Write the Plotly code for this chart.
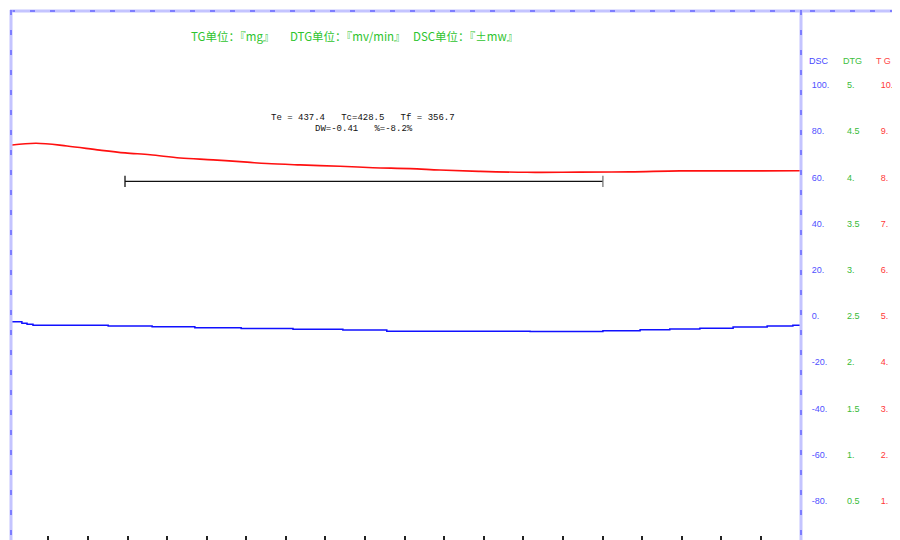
import plotly.graph_objects as go

# ---------------- data ----------------
# TG curve (mg) vs time index
tg_x = [-0.92, -0.31, 0.47, 1.30, 1.94, 2.57, 3.33, 4.16, 5.02, 5.52, 6.36, 7.37,
        8.20, 9.14, 9.89, 10.91, 12.09, 13.43, 14.69, 15.96, 17.47, 18.99]
tg_y = [8.70, 8.74, 8.68, 8.59, 8.53, 8.49, 8.42, 8.38, 8.33, 8.30, 8.27, 8.24,
        8.21, 8.19, 8.16, 8.13, 8.11, 8.115, 8.12, 8.14, 8.14, 8.145]

# DSC curve (±mw)
dsc_x = [-0.92, -0.67, -0.54, -0.39, 1.51, 2.62, 3.70, 4.87, 6.18, 7.44, 8.55,
         12.17, 14.01, 14.95, 15.70, 16.46, 17.30, 18.16, 18.81, 18.99]
dsc_y = [-2.47, -3.16, -3.59, -4.03, -4.33, -4.63, -5.06, -5.40, -5.75, -6.10, -6.55,
         -6.70, -6.36, -5.93, -5.63, -5.32, -4.76, -4.33, -4.03, -4.03]

# analysis range bracket (on TG scale)
range_x = [1.935, 14.01]
range_tg = 7.913
cap_half = 0.12

# right-hand scales
dsc_ticks = [100, 80, 60, 40, 20, 0, -20, -40, -60, -80]
dsc_text = ["100.", "80.", "60.", "40.", "20.", "0.", "-20.", "-40.", "-60.", "-80."]
dtg_ticks = [5, 4.5, 4, 3.5, 3, 2.5, 2, 1.5, 1, 0.5]
dtg_text = ["5.", "4.5", "4.", "3.5", "3.", "2.5", "2.", "1.5", "1.", "0.5"]
tg_ticks = [10, 9, 8, 7, 6, 5, 4, 3, 2, 1]
tg_text = ["10.", "9.", "8.", "7.", "6.", "5.", "4.", "3.", "2.", "1."]

x_ticks = list(range(0, 19))

# ---------------- layout helpers ----------------
OFF = 8                      # page body margin in the browser
W, H = 900 - OFF, 540 - OFF
ML, MR, MT, MB = 12 - OFF, 0, 11 - OFF, 0
PW, PH = W - ML - MR, H - MT - MB

def px(x):
    # screen pixel -> paper fraction
    return (x - OFF - ML) / PW

def py(y):
    return 1 - (y - OFF - MT) / PH

DSC_RANGE = [-96.97, 132.03]
DTG_RANGE = [d / 40 + 2.5 for d in DSC_RANGE]
TG_RANGE = [d / 20 + 5 for d in DSC_RANGE]

fig = go.Figure()

fig.add_trace(go.Scatter(x=dsc_x, y=dsc_y, mode="lines", line=dict(color="#1010ff", width=1.5, shape="hv"),
                         yaxis="y", hoverinfo="skip"))
fig.add_trace(go.Scatter(x=tg_x, y=tg_y, mode="lines", line=dict(color="#ff1010", width=1.6, shape="spline"),
                         yaxis="y3", hoverinfo="skip"))
# bracket
fig.add_trace(go.Scatter(x=range_x, y=[range_tg, range_tg], mode="lines",
                         line=dict(color="#111111", width=1.3), yaxis="y3", hoverinfo="skip"))
fig.add_trace(go.Scatter(x=[range_x[0], range_x[0]], y=[range_tg - cap_half, range_tg + cap_half], mode="lines",
                         line=dict(color="#111111", width=1.3), yaxis="y3", hoverinfo="skip"))
fig.add_trace(go.Scatter(x=[range_x[1], range_x[1]], y=[range_tg - cap_half, range_tg + cap_half], mode="lines",
                         line=dict(color="#777777", width=1.3), yaxis="y3", hoverinfo="skip"))
# invisible trace to keep DTG axis alive
fig.add_trace(go.Scatter(x=[None], y=[None], yaxis="y2", mode="lines", hoverinfo="skip"))

shapes = []
border_light = "#c4c4ff"
border_dash = "#7d7dff"
for (x0, y0, x1, y1) in [(10, 11, 900, 11), (11, 10, 11, 540), (801, 10, 801, 540)]:
    shapes.append(dict(type="line", xref="paper", yref="paper", x0=px(x0), y0=py(y0), x1=px(x1), y1=py(y1),
                       line=dict(color=border_light, width=3), layer="above"))
    shapes.append(dict(type="line", xref="paper", yref="paper", x0=px(x0), y0=py(y0), x1=px(x1), y1=py(y1),
                       line=dict(color=border_dash, width=2, dash="5px,15px"), layer="above"))

cjk = "Noto Sans CJK SC, Arial, sans-serif"
mono = "Liberation Mono, DejaVu Sans Mono, monospace"
green = "#2ec42e"
annotations = [
    dict(text="TG单位：『mg』", x=px(189), y=py(36), xanchor="left", yanchor="middle"),
    dict(text="DTG单位：『mv/min』", x=px(288), y=py(36), xanchor="left", yanchor="middle"),
    dict(text="DSC单位：『±mw』", x=px(411), y=py(36), xanchor="left", yanchor="middle"),
]
for a in annotations:
    a.update(xref="paper", yref="paper", showarrow=False, font=dict(family=cjk, size=11.5, color=green))

sans = "Arial, Liberation Sans, sans-serif"
annotations += [
    dict(text="Te = 437.4   Tc=428.5   Tf = 356.7", x=px(363), y=py(118), xanchor="center", yanchor="middle",
         xref="paper", yref="paper", showarrow=False, font=dict(family=mono, size=9, color="#111111")),
    dict(text="DW=-0.41   %=-8.2%", x=px(363.5), y=py(128.5), xanchor="center", yanchor="middle",
         xref="paper", yref="paper", showarrow=False, font=dict(family=mono, size=9, color="#111111")),
    dict(text="DSC", x=px(806.5), y=py(61), xanchor="left", yanchor="middle", xref="paper", yref="paper",
         showarrow=False, font=dict(family=sans, size=9, color="#4848ff")),
    dict(text="DTG", x=px(840.5), y=py(61), xanchor="left", yanchor="middle", xref="paper", yref="paper",
         showarrow=False, font=dict(family=sans, size=9, color="#40c040")),
    dict(text="T G", x=px(874), y=py(61), xanchor="left", yanchor="middle", xref="paper", yref="paper",
         showarrow=False, font=dict(family=sans, size=9, color="#ff4848")),
]

fig.update_layout(
    width=W, height=H,
    margin=dict(l=ML, r=MR, t=MT, b=MB, pad=0),
    paper_bgcolor="white", plot_bgcolor="white",
    showlegend=False,
    xaxis=dict(domain=[0, px(800)], range=[-0.92, 18.99], showgrid=False, zeroline=False, showline=False,
               tickvals=x_ticks, showticklabels=False, ticks="inside", ticklen=4, tickwidth=1.5,
               tickcolor="#222222"),
    yaxis=dict(range=DSC_RANGE, showgrid=False, zeroline=False, showline=False, ticks="", side="right",
               anchor="free", position=px(810.7), tickvals=dsc_ticks, ticktext=dsc_text,
               tickfont=dict(family=sans, size=9, color="#5050ff")),
    yaxis2=dict(range=DTG_RANGE, showgrid=False, zeroline=False, showline=False, ticks="", side="right",
                anchor="free", overlaying="y", position=px(846), tickvals=dtg_ticks, ticktext=dtg_text,
                tickfont=dict(family=sans, size=9, color="#38bb38")),
    yaxis3=dict(range=TG_RANGE, showgrid=False, zeroline=False, showline=False, ticks="", side="right",
                anchor="free", overlaying="y", position=px(879.7), tickvals=tg_ticks, ticktext=tg_text,
                tickfont=dict(family=sans, size=9, color="#ff3838")),
    shapes=shapes,
    annotations=annotations,
)

fig.write_html("out.html")
